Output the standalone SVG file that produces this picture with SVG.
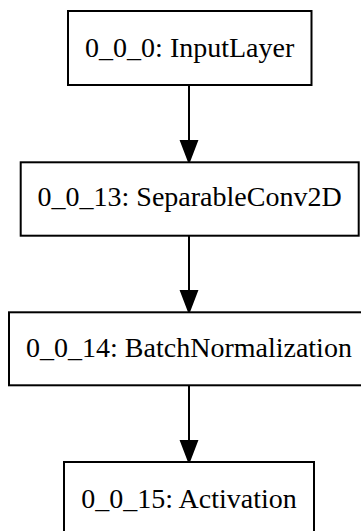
<svg xmlns="http://www.w3.org/2000/svg" width="361" height="531" viewBox="0 0 361 531">
<style>
.box{fill:#fff;stroke:#000;stroke-width:2}
.lbl{font-family:"Liberation Serif","Times New Roman",serif;font-size:28px;fill:#000;text-anchor:middle}
.edge{stroke:#000;stroke-width:2;fill:none}
.head{fill:#000;stroke:#000;stroke-width:2}
</style>
<rect width="361" height="531" fill="#fff"/>
<g id="edges">
<line class="edge" x1="189" y1="85" x2="189" y2="141"/>
<polygon class="head" points="181,141 197,141 189,162"/>
<line class="edge" x1="189" y1="236" x2="189" y2="291"/>
<polygon class="head" points="181,291 197,291 189,312"/>
<line class="edge" x1="189" y1="385" x2="189" y2="441"/>
<polygon class="head" points="181,441 197,441 189,462"/>
</g>
<g id="n0">
<rect class="box" x="68" y="11" width="243.5" height="74"/>
<text class="lbl" x="189.7" y="56.7">0_0_0: InputLayer</text>
</g>
<g id="n13">
<rect class="box" x="20.7" y="162.3" width="338" height="73.4"/>
<text class="lbl" x="189.6" y="205.7">0_0_13: SeparableConv2D</text>
</g>
<g id="n14">
<rect class="box" x="9" y="312.3" width="360" height="73"/>
<text class="lbl" x="189" y="356.7">0_0_14: BatchNormalization</text>
</g>
<g id="n15">
<rect class="box" x="64" y="462" width="250" height="74"/>
<text class="lbl" x="189" y="508.3">0_0_15: Activation</text>
</g>
</svg>
